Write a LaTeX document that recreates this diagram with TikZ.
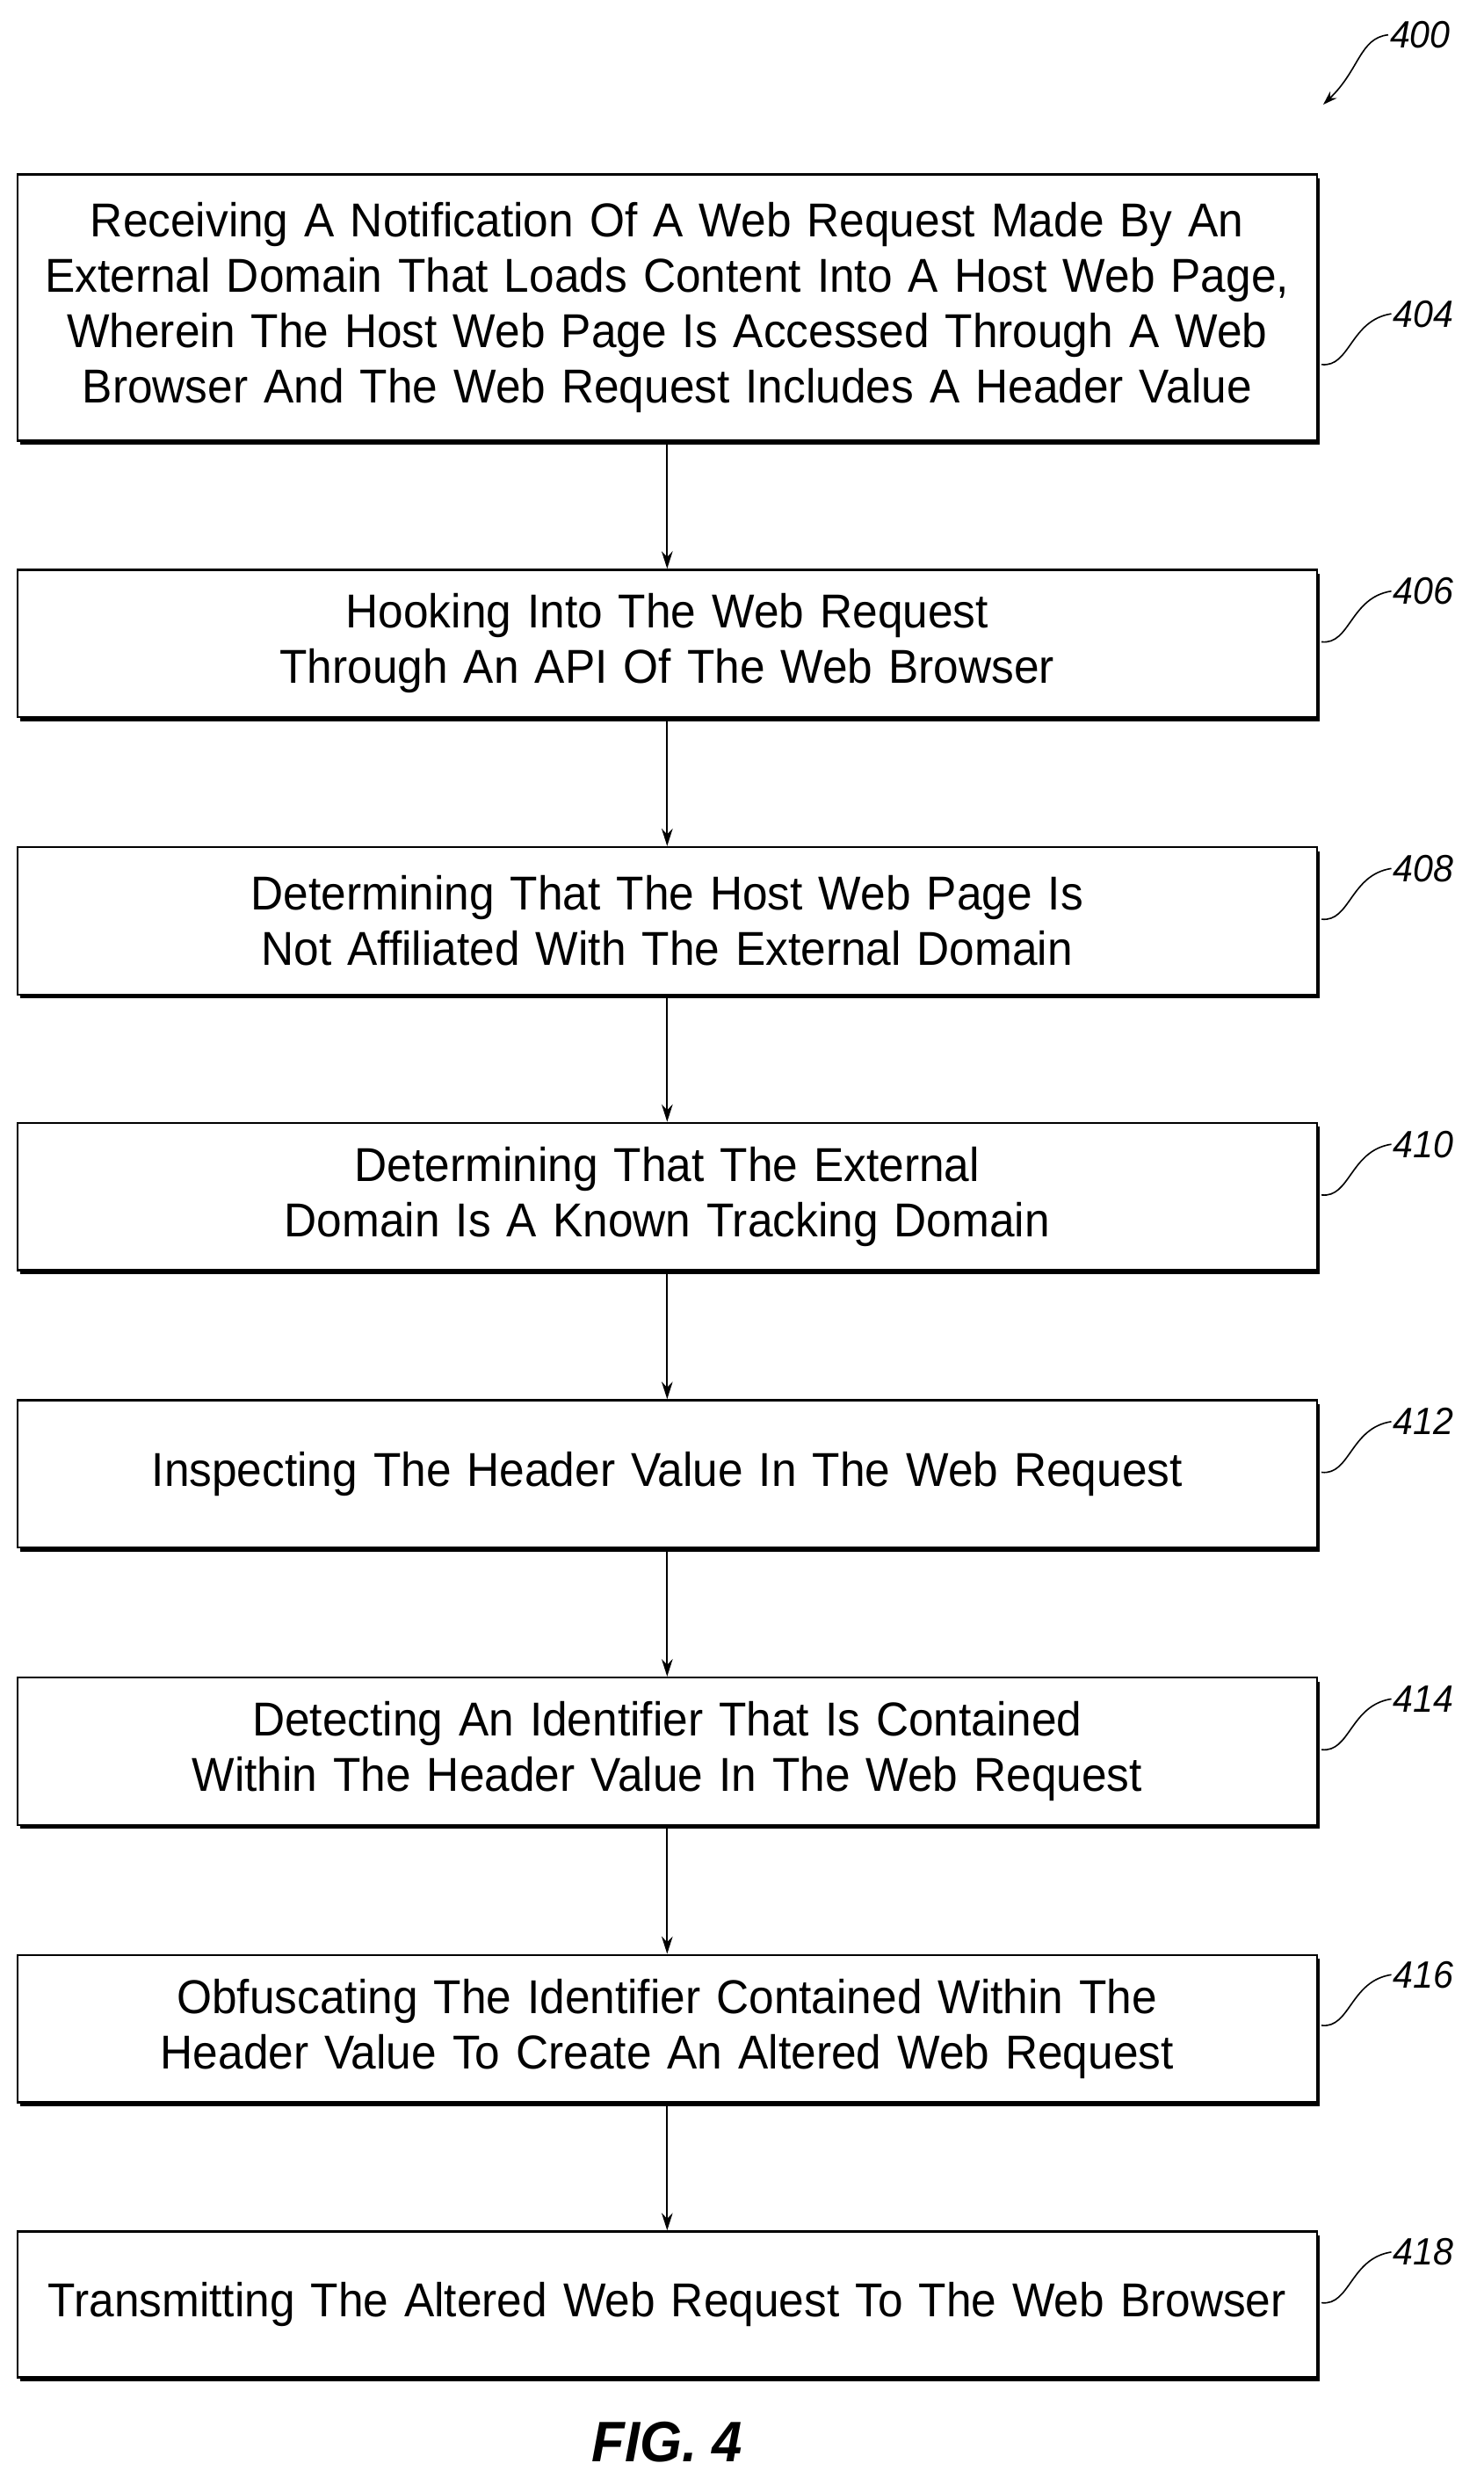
\documentclass[tikz,border=0pt]{standalone}
\usepackage{fontspec}
\setmainfont{Liberation Sans}[FakeStretch=0.95]
\usetikzlibrary{shadows,arrows.meta}
\begin{document}
\begin{tikzpicture}[x=1pt,y=-1pt,
  box/.style={draw,line width=1.3pt,fill=white,minimum width=820pt,text width=816pt,align=center,inner sep=0pt,
    font=\fontsize{30}{35}\selectfont,
    drop shadow={shadow xshift=2pt,shadow yshift=-2.5pt,fill=black,opacity=1}},
  arr/.style={-{Stealth[length=11pt,width=7pt]},line width=1pt},
  lead/.style={line width=0.9pt},
  ref/.style={font=\itshape\fontsize{24}{26}\selectfont,anchor=west,inner sep=1pt}]
\useasboundingbox (0,0) rectangle (936,1568);
\node[box,minimum height=168pt] (b404) at (421,194) {Receiving A Notification Of A Web Request Made By An\\External Domain That Loads Content Into A Host Web Page,\\Wherein The Host Web Page Is Accessed Through A Web\\Browser And The Web Request Includes A Header Value};
\node[box,minimum height=93pt] (b406) at (421,406) {Hooking Into The Web Request\\Through An API Of The Web Browser};
\node[box,minimum height=93pt] (b408) at (421,581) {Determining That The Host Web Page Is\\Not Affiliated With The External Domain};
\node[box,minimum height=93pt] (b410) at (421,755) {Determining That The External\\Domain Is A Known Tracking Domain};
\node[box,minimum height=93pt] (b412) at (421,930) {Inspecting The Header Value In The Web Request};
\node[box,minimum height=93pt] (b414) at (421,1105) {Detecting An Identifier That Is Contained\\Within The Header Value In The Web Request};
\node[box,minimum height=93pt] (b416) at (421,1280) {Obfuscating The Identifier Contained Within The\\Header Value To Create An Altered Web Request};
\node[box,minimum height=92pt] (b418) at (421,1454) {Transmitting The Altered Web Request To The Web Browser};
\draw[arr] (b404) -- (b406);
\draw[arr] (b406) -- (b408);
\draw[arr] (b408) -- (b410);
\draw[arr] (b410) -- (b412);
\draw[arr] (b412) -- (b414);
\draw[arr] (b414) -- (b416);
\draw[arr] (b416) -- (b418);
\foreach \n/\y in {404/198,406/373,408/548,410/722,412/897,414/1072,416/1246,418/1421}{
  \node[ref] (r\n) at (878,\y) {\n};
  \coordinate (s\n) at (834,\y+32);
  \draw[lead] (s\n) .. controls (852,\y+34) and (852,\y+4) .. (r\n.west);
}
\node[ref] (r400) at (876,22) {400};
\coordinate (t400) at (835,66);
\draw[lead,-{Stealth[length=9pt,width=6pt]}] (r400.west) .. controls (858,24) and (858,44) .. (t400);
\node[font=\itshape\bfseries\fontsize{36}{40}\selectfont] (fig) at (421,1541) {FIG. 4};
\end{tikzpicture}
\end{document}
